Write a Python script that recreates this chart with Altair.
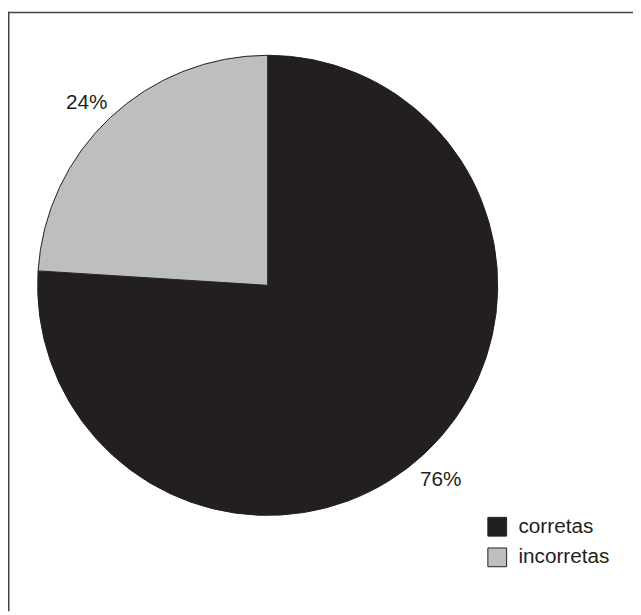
import altair as alt
import pandas as pd

categories = ["corretas", "incorretas"]
values = [76, 24]
labels = ["76%", "24%"]
colors = ["#231f20", "#bcbec0"]

df = pd.DataFrame({"cat": categories, "val": values, "label": labels,
                   "order": [0, 1]})

cx, cy, r = 263, 277, 233

base = alt.Chart(df).encode(
    theta=alt.Theta("val:Q", stack=True),
    order=alt.Order("order:Q"),
)

pie = base.mark_arc(stroke="#231f20", strokeWidth=1).encode(
    x=alt.value(cx), y=alt.value(cy),
    radius=alt.value(r),
    color=alt.Color("cat:N", scale=alt.Scale(domain=categories, range=colors),
                    legend=alt.Legend(title=None, orient="none", legendX=485, legendY=511,
                                      symbolType="square", symbolSize=361,
                                      symbolStrokeColor="#231f20", symbolStrokeWidth=1,
                                      labelFontSize=21, labelFont="Liberation Sans",
                                      labelColor="#231f20", labelOffset=11,
                                      rowPadding=8, padding=0)),
)

text = base.mark_text(fontSize=21, font="Liberation Sans", color="#231f20",
                      dx=-4, dy=6).encode(
    x=alt.value(cx), y=alt.value(cy),
    radius=alt.value(262),
    text="label:N",
)

frame = pd.DataFrame({"a": [0]})
top = alt.Chart(frame).mark_rule(color="#444444", strokeWidth=1.5).encode(
    x=alt.value(0), x2=alt.value(633), y=alt.value(0.75))
left = alt.Chart(frame).mark_rule(color="#444444", strokeWidth=1.5).encode(
    x=alt.value(0.75), y=alt.value(0), y2=alt.value(607))

chart = alt.layer(pie, text, top, left).properties(
    width=633, height=607, padding=0, autosize="none"
).configure_view(stroke=None)

chart.save("out.html", embed_options={"renderer": "svg", "actions": False})
